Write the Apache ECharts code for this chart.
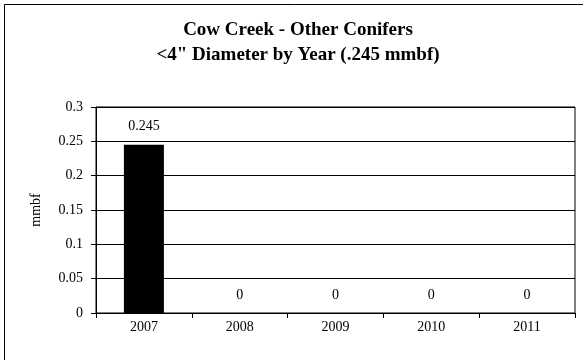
<!DOCTYPE html>
<html>
<head>
<meta charset="utf-8">
<script src="https://cdn.jsdelivr.net/npm/echarts@6/dist/echarts.min.js"></script>
<style>html,body{margin:0;padding:0;background:#fff}#c{width:583px;height:360px}</style>
</head>
<body>
<div id="c"></div>
<script>
const categories = ['2007', '2008', '2009', '2010', '2011'];
const values = [0.245, 0, 0, 0, 0];
const titleLines = ['Cow Creek - Other Conifers', '<4" Diameter by Year (.245 mmbf)'];
const yName = 'mmbf';

const chart = echarts.init(document.getElementById('c'), null, {renderer: 'canvas'});
const serif = '"Liberation Serif", "DejaVu Serif", serif';
chart.setOption({
  animation: false,
  backgroundColor: '#fff',
  title: {
    text: titleLines.join('\n'),
    left: 293,
    textAlign: 'center',
    top: 13,
    textStyle: {fontFamily: serif, fontWeight: 'bold', fontSize: 19, lineHeight: 25, color: '#000'}
  },
  graphic: [{
    type: 'rect',
    shape: {x: 4.5, y: 4.5, width: 700, height: 500},
    style: {fill: 'none', stroke: '#000', lineWidth: 1},
    silent: true
  }],
  grid: {left: 96, right: 8, top: 107, bottom: 47, show: true, borderColor: '#000', borderWidth: 1, backgroundColor: 'transparent'},
  xAxis: {
    type: 'category',
    data: categories,
    boundaryGap: true,
    axisLine: {lineStyle: {color: '#000', width: 1}},
    axisTick: {show: true, alignWithLabel: false, length: 5, lineStyle: {color: '#000'}},
    axisLabel: {fontFamily: serif, fontSize: 14, color: '#000', margin: 7}
  },
  yAxis: {
    type: 'value',
    min: 0, max: 0.3, interval: 0.05,
    name: yName,
    nameLocation: 'middle',
    nameGap: 53,
    nameTextStyle: {fontFamily: serif, fontSize: 14, color: '#000'},
    axisLine: {show: true, lineStyle: {color: '#000'}},
    axisTick: {show: true, length: 5, lineStyle: {color: '#000'}},
    axisLabel: {fontFamily: serif, fontSize: 14, color: '#000', margin: 13},
    splitLine: {show: true, lineStyle: {color: '#000', width: 1}}
  },
  series: [{
    type: 'bar',
    data: values,
    barWidth: 40,
    itemStyle: {color: '#000'},
    label: {show: true, position: 'top', distance: 11, fontFamily: serif, fontSize: 14, color: '#000'}
  }]
});
</script>
</body>
</html>
